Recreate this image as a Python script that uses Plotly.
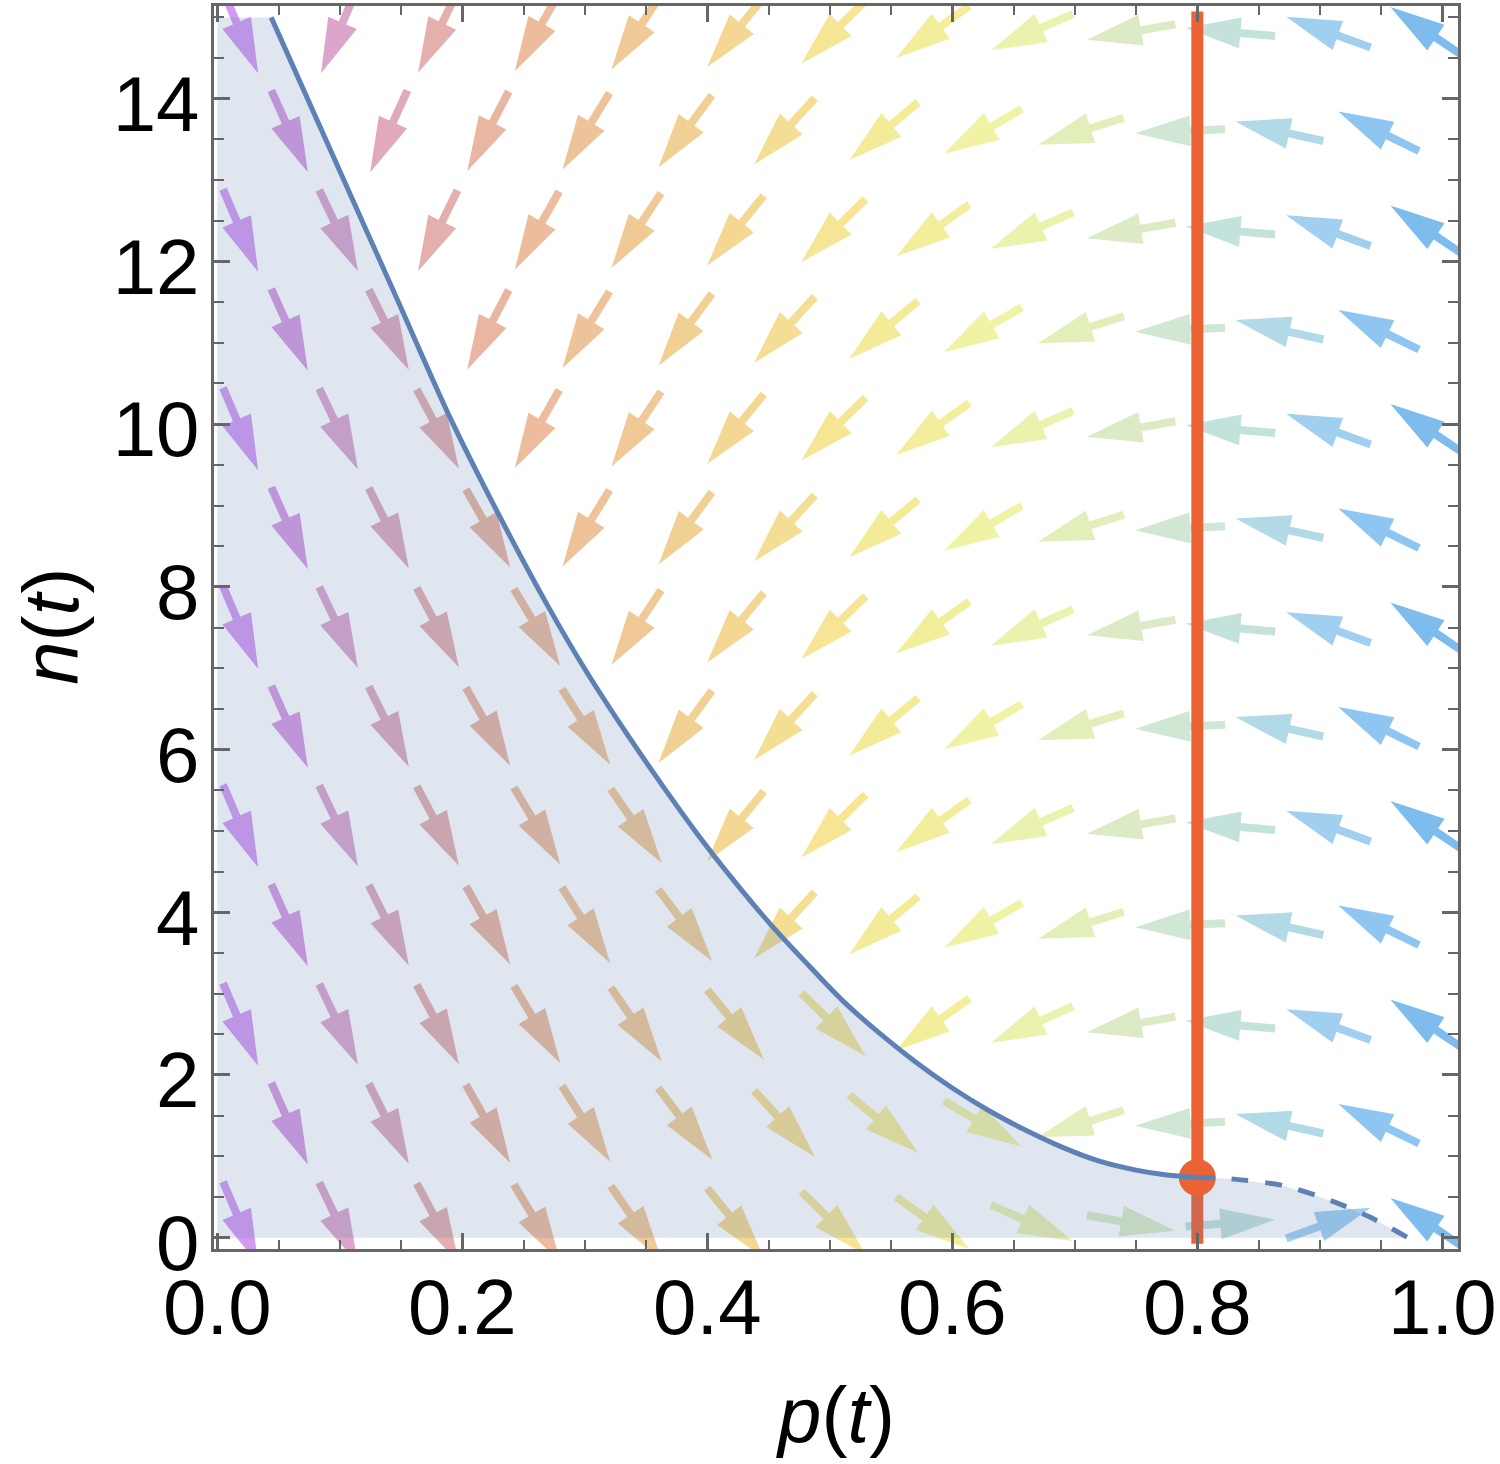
import numpy as np
import plotly.graph_objects as go

# ---------------- data ----------------
# arrow grid (hexagonal): column positions in p, row positions in n
P_COLS = [0.019, 0.059, 0.099, 0.140, 0.180, 0.221, 0.261, 0.301, 0.342, 0.382,
          0.423, 0.463, 0.503, 0.544, 0.584, 0.625, 0.665, 0.705, 0.746, 0.786,
          0.827, 0.867, 0.907, 0.948, 0.988]
N_ROWS_EVEN = [0.18, 2.62, 5.06, 7.50, 9.94, 12.38, 14.82]   # columns 0,2,4,...
N_ROWS_ODD = [1.40, 3.84, 6.28, 8.72, 11.16, 13.60]          # columns 1,3,5,...

# arrow direction (degrees on screen, counter-clockwise from +p) per column
ANGLE_ABOVE = [-111, -112, -113, -114.5, -116, -117.5, -119.5, -121.5, -123.5, -126.5,
               -129, -132.5, -135.5, -140, -144.5, -150, -156, -162.5, -170, -177.5,
               175, 167.5, 160, 154, 146]
ANGLE_BELOW = [-67, -66, -64.5, -63.5, -62, -60.5, -59, -57.5, -55.5, -53,
               -51, -47.5, -44.5, -40, -35.5, -30.5, -24, -17.5, -10, -2.5,
               4.5, 12.5, 20, 26, 32]

ARROW_COLORS = ["#D49AF0", "#D69BE2", "#DCA5CB", "#E0A9BC", "#E4B0AE", "#E9B6A1",
                "#EDBC9D", "#EFC399", "#F0C997", "#F1D094", "#F3D792", "#F4DE93",
                "#F6E595", "#F4EB98", "#F3EE9C", "#F0F2A4", "#EAF2AD", "#E3EFBA",
                "#DCEBC6", "#D0E7D3", "#C3E2DC", "#B1D9E6", "#A1CFEF", "#8FC6F1",
                "#7FBCEE"]

# boundary curve (solid part, then dashed continuation)
CURVE_P = [0.044, 0.103, 0.147, 0.19, 0.23, 0.27, 0.30, 0.33, 0.36, 0.39, 0.42,
           0.45, 0.48, 0.51, 0.54, 0.57, 0.60, 0.63, 0.66, 0.69, 0.72, 0.75, 0.775, 0.80]
CURVE_N = [15.0, 13.01, 11.53, 10.08, 8.88, 7.76, 6.99, 6.29, 5.63, 5.00, 4.42,
           3.88, 3.39, 2.92, 2.52, 2.16, 1.84, 1.56, 1.32, 1.11, 0.94, 0.83, 0.77, 0.74]
DASH_P = [0.80, 0.83, 0.87, 0.91, 0.94, 0.972]
DASH_N = [0.74, 0.72, 0.64, 0.45, 0.26, 0.0]

P_STAR = 0.8        # vertical line
N_STAR = 0.74       # fixed point on it
N_TOP = 15.0

X_TICKS = [0.0, 0.2, 0.4, 0.6, 0.8, 1.0]
X_TICKTEXT = ["0.0", "0.2", "0.4", "0.6", "0.8", "1.0"]
Y_TICKS = [0, 2, 4, 6, 8, 10, 12, 14]
Y_TICKTEXT = ["0", "2", "4", "6", "8", "10", "12", "14"]

# ---------------- layout geometry ----------------
W, H = 1500, 1464
ML, MR, MT, MB = 214, 40, 3, 215
XR = [-0.0027, 1.0128]
YR = [-0.139, 15.14]
PW, PH = W - ML - MR, H - MT - MB
SX = PW / (XR[1] - XR[0])   # px per unit p
SY = PH / (YR[1] - YR[0])   # px per unit n

# arrow shape in px
L_ARR, HEAD_LEN, HEAD_HALF, SHAFT_HALF = 90.0, 55.0, 15.5, 4.0
hb = L_ARR / 2 - HEAD_LEN
LOCAL = [(-L_ARR / 2, -SHAFT_HALF), (hb, -SHAFT_HALF), (hb, -HEAD_HALF), (L_ARR / 2, 0.0),
         (hb, HEAD_HALF), (hb, SHAFT_HALF), (-L_ARR / 2, SHAFT_HALF)]

all_p = CURVE_P + DASH_P[1:]
all_n = CURVE_N + DASH_N[1:]


def boundary(p):
    if p < all_p[0]:
        return np.inf
    if p > all_p[-1]:
        return -np.inf
    return float(np.interp(p, all_p, all_n))


fig = go.Figure()

for k, p in enumerate(P_COLS):
    rows = N_ROWS_EVEN if k % 2 == 0 else N_ROWS_ODD
    xs, ys = [], []
    for n in rows:
        ang = ANGLE_BELOW[k] if n < boundary(p) else ANGLE_ABOVE[k]
        a = np.deg2rad(ang)
        c, s = np.cos(a), np.sin(a)
        for (u, v) in LOCAL:
            dx = u * c - v * s
            dy = u * s + v * c
            xs.append(p + dx / SX)
            ys.append(n + dy / SY)
        xs.append(None)
        ys.append(None)
    fig.add_trace(go.Scatter(x=xs, y=ys, mode="lines", fill="toself",
                             fillcolor=ARROW_COLORS[k], line=dict(width=0),
                             hoverinfo="skip", showlegend=False))

# vertical line at p*, square caps (6 px)
cap = 6.0 / SY
fig.add_trace(go.Scatter(x=[P_STAR, P_STAR], y=[0 - cap, N_TOP + cap], mode="lines",
                         line=dict(color="#EB6235", width=12), hoverinfo="skip",
                         showlegend=False))

# shaded region under the boundary
fx = [0.0, 0.0] + CURVE_P + DASH_P[1:] + [0.0]
fy = [0.0, N_TOP] + CURVE_N + DASH_N[1:] + [0.0]
fig.add_trace(go.Scatter(x=fx, y=fy, mode="lines", fill="toself",
                         fillcolor="rgba(94,129,181,0.2)", line=dict(width=0),
                         hoverinfo="skip", showlegend=False))

# fixed point
fig.add_trace(go.Scatter(x=[P_STAR], y=[N_STAR], mode="markers",
                         marker=dict(size=37, color="#EB6235"), hoverinfo="skip",
                         showlegend=False))

# boundary curve
fig.add_trace(go.Scatter(x=CURVE_P, y=CURVE_N, mode="lines",
                         line=dict(color="#5E81B5", width=5, shape="spline", smoothing=0.8),
                         hoverinfo="skip", showlegend=False))
fig.add_trace(go.Scatter(x=DASH_P, y=DASH_N, mode="lines",
                         line=dict(color="#5E81B5", width=5, dash="17px,17px",
                                   shape="spline", smoothing=0.8),
                         hoverinfo="skip", showlegend=False))

FONT = "Liberation Sans, Arial, sans-serif"
FRAME = "#666666"

axis_common = dict(showgrid=False, zeroline=False, showline=True, linecolor=FRAME,
                   linewidth=3, mirror="ticks", ticks="inside", tickcolor=FRAME,
                   tickwidth=2.5, ticklen=16,
                   tickfont=dict(family=FONT, size=78, color="black"))

fig.update_layout(
    width=W, height=H, autosize=False,
    margin=dict(l=ML, r=MR, t=MT, b=MB),
    paper_bgcolor="white", plot_bgcolor="white",
    xaxis=dict(range=XR, tickvals=X_TICKS, ticktext=X_TICKTEXT,
               minor=dict(tick0=0, dtick=0.05, ticks="inside", ticklen=9,
                          tickwidth=2, tickcolor=FRAME),
               ticklabelstandoff=-12, **axis_common),
    yaxis=dict(range=YR, tickvals=Y_TICKS, ticktext=Y_TICKTEXT,
               minor=dict(tick0=0, dtick=0.5, ticks="inside", ticklen=10,
                          tickwidth=2, tickcolor=FRAME),
               ticklabelstandoff=-4, ticklabelshift=5, **axis_common),
    annotations=[
        dict(text="<i>p</i>(<i>t</i>)", xref="paper", yref="paper",
             x=(836 - ML) / PW, y=-(1415 - (H - MB)) / PH, xanchor="center",
             yanchor="middle", showarrow=False,
             font=dict(family=FONT, size=78, color="black")),
        dict(text="<i>n</i>(<i>t</i>)", xref="paper", yref="paper",
             x=(50 - ML) / PW, y=((H - MB) - 625) / PH, xanchor="center",
             yanchor="middle", showarrow=False, textangle=-90,
             font=dict(family=FONT, size=78, color="black")),
    ],
)

fig.write_html("out.html", config={"displayModeBar": False},
               post_script="document.body.style.margin='0px';document.body.style.padding='0px';")
